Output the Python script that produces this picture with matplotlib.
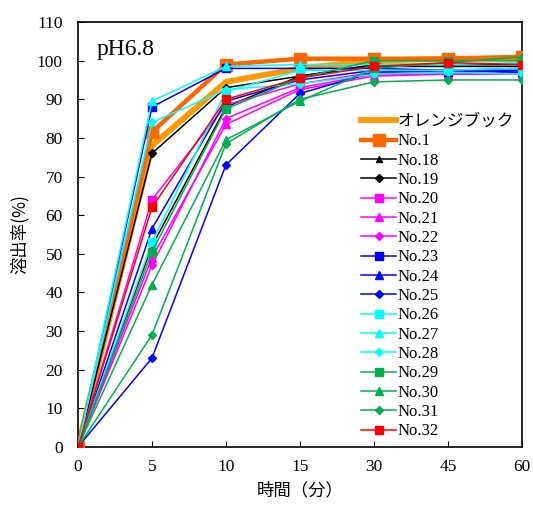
import matplotlib
matplotlib.use("Agg")
import matplotlib.pyplot as plt

plt.rcParams['font.family'] = ['Liberation Serif', 'Noto Sans CJK JP', 'DejaVu Sans']

times = ["0", "5", "10", "15", "30", "45", "60"]

orange_book = [0, 78, 94.5, 98, 100, 100.5, 100.5]
no1 = [0, 81.5, 99, 100.5, 100.5, 100.5, 101]
no18 = [0, 52, 88, 96, 99, 99, 99]
no19 = [0, 76, 93, 96, 98.5, 98.5, 98.5]
no20 = [0, 64, 88.5, 94, 97, 97, 97.5]
no21 = [0, 49, 83.5, 92.5, 96, 96.5, 96.5]
no22 = [0, 47, 85, 93, 96.5, 96.5, 97]
no23 = [0, 88, 98, 98, 98, 97.5, 97]
no24 = [0, 56.5, 89.5, 95, 97.5, 97, 97.5]
no25 = [0, 23, 73, 91.5, 97, 97.5, 98]
no26 = [0, 53, 92, 97.5, 97.5, 97.5, 98]
no27 = [0, 89.5, 98.5, 99, 99, 99, 99.5]
no28 = [0, 84, 92.5, 94, 96.5, 97, 96.5]
no29 = [0, 50.5, 87.5, 95.5, 100, 100, 100]
no30 = [0, 42, 79.5, 89.5, 98, 99.5, 101]
no31 = [0, 29, 78.5, 90, 94.5, 95, 95]
no32 = [0, 62, 90, 95.5, 98.5, 99.5, 99]

names = ["オレンジブック", "No.1", "No.18", "No.19", "No.20", "No.21", "No.22",
         "No.23", "No.24", "No.25", "No.26", "No.27", "No.28", "No.29",
         "No.30", "No.31", "No.32"]
series = [orange_book, no1, no18, no19, no20, no21, no22, no23, no24, no25,
          no26, no27, no28, no29, no30, no31, no32]

BLACK, MAG, BLUE, CYAN, GREEN, RED = "#000000", "#FF00FF", "#0000FF", "#00FFFF", "#00B050", "#FF0000"
styles = [
    dict(color="#FF9900", lw=4.2, marker=None),
    dict(color="#FF6600", lw=3.2, marker="s", ms=9),
    dict(color=BLACK, lw=1.1, marker="^", ms=5),
    dict(color=BLACK, lw=1.1, marker="D", ms=4.5),
    dict(color=MAG, lw=1.1, marker="s", ms=5.5),
    dict(color=MAG, lw=1.1, marker="^", ms=5.5),
    dict(color=MAG, lw=1.1, marker="D", ms=4.5),
    dict(color=BLUE, lw=1.1, marker="s", ms=5.5),
    dict(color=BLUE, lw=1.1, marker="^", ms=5.5),
    dict(color=BLUE, lw=1.1, marker="D", ms=4.5),
    dict(color=CYAN, lw=1.1, marker="s", ms=5.5),
    dict(color=CYAN, lw=1.1, marker="^", ms=5.5),
    dict(color=CYAN, lw=1.1, marker="D", ms=4.5),
    dict(color=GREEN, lw=1.1, marker="s", ms=5.5),
    dict(color=GREEN, lw=1.1, marker="^", ms=5.5),
    dict(color=GREEN, lw=1.1, marker="D", ms=4.5),
    dict(color=RED, lw=1.1, marker="s", ms=5.5),
]

fig = plt.figure(figsize=(5.33, 5.05), dpi=100)
ax = fig.add_axes([0.1463, 0.1149, 0.8327, 0.8415])

for i, (name, vals, st) in enumerate(zip(names, series, styles)):
    kw = dict(color=st["color"], lw=st["lw"], label=name, zorder=2 + i)
    if st["marker"]:
        kw.update(marker=st["marker"], ms=st["ms"], markerfacecolor=st["color"],
                  markeredgecolor=st["color"])
    ax.plot(times, vals, **kw)

ax.set_xlim(0, len(times) - 1)
ax.set_ylim(0, 110)
ax.set_yticks(range(0, 111, 10))
ax.tick_params(direction="in", length=4, width=0.8, labelsize=12.5)
ax.tick_params(axis="y", pad=11)
ax.tick_params(axis="x", pad=9)
for sp in ax.spines.values():
    sp.set_linewidth(1.2)

ax.set_xlabel("時間（分）", family=['Noto Sans CJK JP'], fontsize=12.5, labelpad=4)
ax.set_ylabel("溶出率(%)", family=['Noto Sans CJK JP'], fontsize=12.5, labelpad=6)

ax.text(0.043, 0.96, "pH6.8", transform=ax.transAxes, fontsize=17,
        va="top", ha="left", family=['Liberation Serif'])

leg = ax.legend(loc="lower right", bbox_to_anchor=(1.0, 0.0), frameon=False,
                fontsize=12, labelspacing=0.2, handlelength=2.1,
                handletextpad=0.1, borderaxespad=0.05)
leg.set_zorder(30)

fig.savefig("out.png", dpi=100)
